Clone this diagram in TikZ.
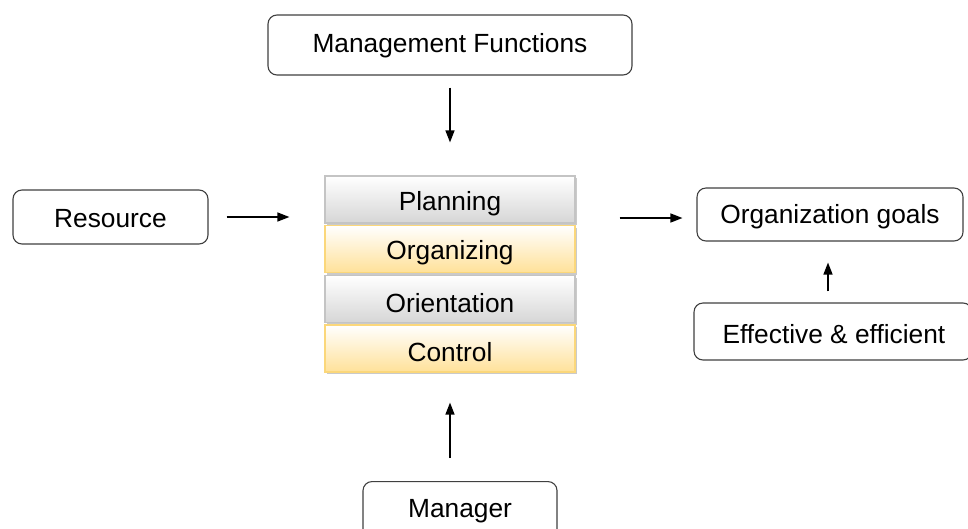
\documentclass[tikz,border=0pt]{standalone}
\usepackage{fontspec}
\setmainfont{Liberation Sans}
\usetikzlibrary{shadows,arrows.meta}
\definecolor{boxline}{HTML}{404040}
\definecolor{grayedge}{HTML}{C4C4C4}
\definecolor{graybot}{HTML}{D6D6D6}
\definecolor{yeledge}{HTML}{FBD77A}
\definecolor{yelbot}{HTML}{FFE199}
\begin{document}
\begin{tikzpicture}[x=1pt,y=-1pt,
  every node/.style={font=\fontsize{26.3}{31}\selectfont, text=black},
  rbox/.style={draw=boxline, line width=1.1pt, rounded corners=9pt, fill=white, inner sep=0pt},
  layer/.style={minimum width=250pt, minimum height=47pt, inner sep=0pt, line width=1.2pt,
    drop shadow={shadow xshift=2pt, shadow yshift=-2pt, fill=black!35, opacity=0.6}},
  graylayer/.style={layer, draw=grayedge, top color=white, bottom color=graybot},
  yellayer/.style={layer, draw=yeledge, top color=white, bottom color=yelbot},
  flow/.style={-{Triangle[length=12pt,width=9pt]}, line width=1.4pt}
]
\useasboundingbox (0,0) rectangle (968,528);

% outer boxes
\node[rbox, minimum width=364pt, minimum height=60pt] (mf) at (450,45) {};
\node at (450,46) {Management Functions};
\node[rbox, minimum width=195pt, minimum height=54pt] (res) at (110.5,217) {};
\node at (110.5,219) {Resource};
\node[rbox, minimum width=266pt, minimum height=53pt] (goal) at (830,214.5) {};
\node at (830,217) {Organization goals};
\node[rbox, minimum width=278pt, minimum height=57pt] (eff) at (833,331.5) {};
\node[anchor=west] at (719,334) {Effective \& efficient};
\node[rbox, minimum width=194pt, minimum height=60pt, anchor=north] (mgr) at (460,481) {};
\node at (460,511) {Manager};

% function layers
\node[graylayer, label={[yshift=-4pt]center:Planning}]    (plan) at (450,199.5) {};
\node[yellayer,  label={[yshift=-4pt]center:Organizing}]  (org)  at (450,249) {};
\node[graylayer, label={[yshift=-4pt]center:Orientation}] (ori)  at (450,299) {};
\node[yellayer,  label={[yshift=-4pt]center:Control}]     (ctl)  at (450,348.5) {};

% anchor points for the horizontal and side connectors
\coordinate (s1) at ([yshift=-3.5pt]goal.west -| plan.east);
\coordinate (g1) at ([yshift=-3.5pt]goal.west);
\coordinate (e1) at (eff.north -| 828,0);
\coordinate (g2) at (goal.south -| 828,0);

% connectors
\draw[flow, shorten <=12pt, shorten >=33pt] (mf.south -| plan.north) -- (plan.north);
\draw[flow, shorten <=18pt, shorten >=35pt] (res.east) -- (res.east -| plan.west);
\draw[flow, shorten <=44pt, shorten >=14pt] (s1) -- (g1);
\draw[flow, shorten <=11pt, shorten >=21pt] (e1) -- (g2);
\draw[flow, shorten <=23pt, shorten >=30pt] (mgr.north -| ctl.south) -- (ctl.south);
\end{tikzpicture}
\end{document}
